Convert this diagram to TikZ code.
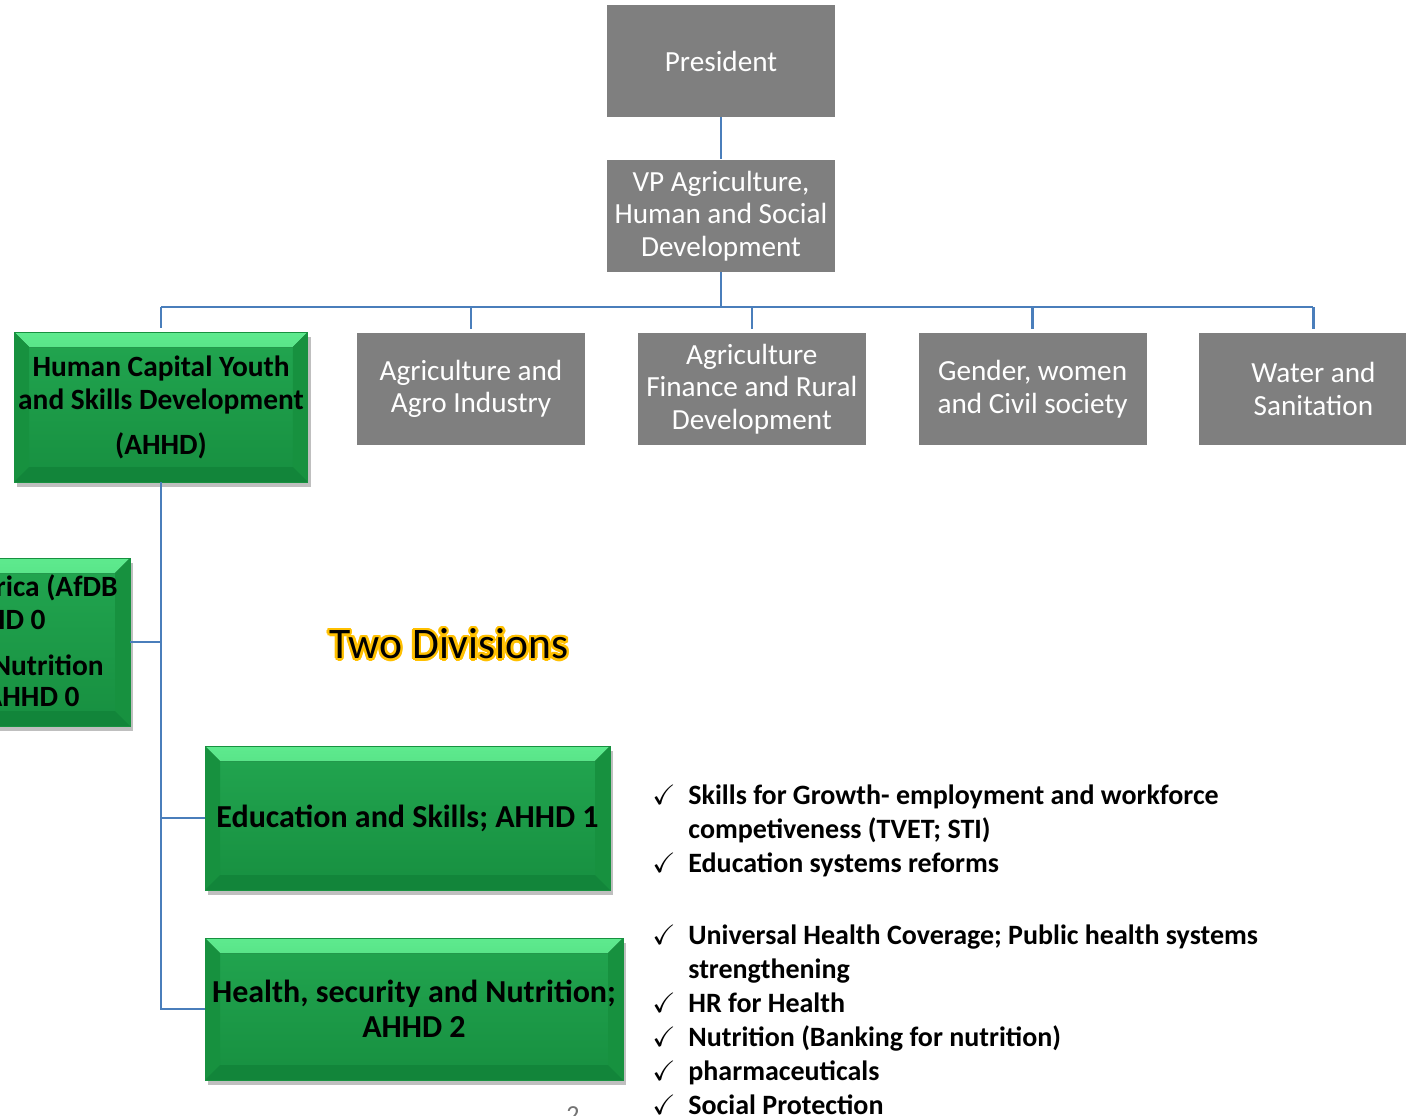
\documentclass[tikz,border=0pt]{standalone}
\usepackage{fontspec}
\setmainfont{Carlito}
\usepackage{amssymb}
\usepackage[copies]{contour}
\usetikzlibrary{positioning,shadows}

\definecolor{boxgray}{HTML}{7F7F7F}
\definecolor{linkblue}{HTML}{4A7EBB}
\definecolor{bevlight}{HTML}{5EEA8E}
\definecolor{bevmid}{HTML}{2DB85C}
\definecolor{facetop}{HTML}{22A650}
\definecolor{facebot}{HTML}{178F40}
\definecolor{bevside}{HTML}{17913F}
\definecolor{bevbot}{HTML}{12853A}
\definecolor{glow}{HTML}{FFC000}

\newcommand{\bevdepth}{7.5pt}
\newcommand{\tick}{\makebox[18pt][l]{$\checkmark$}}
\newcommand{\indnt}{\hspace*{18pt}}

\tikzstyle{unit}=[
	rectangle,
	fill=boxgray,
	text=white,
	align=center,
	inner sep=2pt,
	minimum width=114pt,
	minimum height=56pt,
	font=\fontsize{14.6pt}{16.25pt}\selectfont
]
\tikzstyle{bevel}=[
	path picture={
		\fill[top color=bevlight, bottom color=bevmid]
			(path picture bounding box.north west) -- (path picture bounding box.north east)
			-- ([xshift=-\bevdepth, yshift=-\bevdepth]path picture bounding box.north east)
			-- ([xshift=\bevdepth, yshift=-\bevdepth]path picture bounding box.north west) -- cycle;
		\fill[bevside]
			(path picture bounding box.north west) -- ([xshift=\bevdepth, yshift=-\bevdepth]path picture bounding box.north west)
			-- ([xshift=\bevdepth, yshift=\bevdepth]path picture bounding box.south west)
			-- (path picture bounding box.south west) -- cycle;
		\fill[bevside]
			(path picture bounding box.north east) -- ([xshift=-\bevdepth, yshift=-\bevdepth]path picture bounding box.north east)
			-- ([xshift=-\bevdepth, yshift=\bevdepth]path picture bounding box.south east)
			-- (path picture bounding box.south east) -- cycle;
		\fill[bevbot]
			(path picture bounding box.south west) -- (path picture bounding box.south east)
			-- ([xshift=-\bevdepth, yshift=\bevdepth]path picture bounding box.south east)
			-- ([xshift=\bevdepth, yshift=\bevdepth]path picture bounding box.south west) -- cycle;
	}
]
\tikzstyle{division}=[
	rectangle,
	bevel,
	top color=facetop,
	bottom color=facebot,
	draw=bevside,
	thin,
	drop shadow={shadow xshift=1.5pt, shadow yshift=-2.5pt, fill=black, opacity=0.25},
	align=center,
	inner sep=2pt,
	font=\bfseries\fontsize{14.7pt}{16.5pt}\selectfont
]
\tikzstyle{cut}=[
	inner sep=0pt,
	anchor=east,
	font=\bfseries\fontsize{14.7pt}{16.5pt}\selectfont
]
\tikzstyle{ticklist}=[
	inner sep=0pt,
	anchor=north west,
	align=left,
	font=\bfseries\fontsize{14pt}{17pt}\selectfont
]
\tikzstyle{link}=[
	draw=linkblue,
	line width=1.3pt
]

\begin{document}
\begin{tikzpicture}[x=0.5pt, y=-0.5pt]
\clip (0,0) rectangle (1406,1115);
\fill[white] (0,0) rectangle (1406,1115);

% top of the chart
\node [unit] (President) at (721,61) {President};
\node [unit] (VP) [below=21pt of President] {VP Agriculture,\\Human and Social\\Development};
\coordinate (Bus) at (721,307);

% departments
\node [division, minimum width=146pt, minimum height=75pt] (HCD) at (161,407)
	{Human Capital Youth\\and Skills Development\\[6pt](AHHD)};
\node [unit] (Agro) at (471,389) {Agriculture and\\Agro Industry};
\node [unit] (Finance) [right=26pt of Agro] {Agriculture\\Finance and Rural\\Development};
\node [unit] (Gender) [right=26pt of Finance] {Gender, women\\and Civil society};
\node [unit] (Water) [right=26pt of Gender] {Water and\\Sanitation};

\draw [link] (President) -- (VP);
\draw [link] (VP) -- (Bus);
\draw [link] (HCD.north |- Bus) -- (Water.north |- Bus);
\foreach \dept in {HCD, Agro, Finance, Gender, Water}
	\draw [link] (\dept.north |- Bus) -- ([yshift=2pt]\dept.north);

% divisions of AHHD
\node [division, minimum width=140pt, minimum height=84pt] (Regional) at (-10,642) {};
\node [cut] (RegionalA) at (118,588) {rica (AfDB};
\node [cut] (RegionalB) at (46,620) {HD 0};
\node [cut] (RegionalC) at (104,665) {Nutrition};
\node [cut] (RegionalD) at (80,697) {AHHD 0};

\node (TwoDiv) at (449,645) {\fontsize{21.8pt}{26pt}\selectfont\contourlength{1.2pt}\contour{glow}{Two Divisions}};

\node [division, minimum width=202.5pt, minimum height=72pt, font=\bfseries\fontsize{16pt}{18pt}\selectfont] (Edu) at (407.5,818)
	{Education and Skills; AHHD 1};
\node [division, minimum width=209pt, minimum height=71pt, font=\bfseries\fontsize{16pt}{17.5pt}\selectfont] (Health) at (414,1009)
	{Health, security and Nutrition;\\AHHD 2};

\draw [link] (HCD.south) -- (HCD.south |- Health.west) -- (Health.west);
\draw [link] (HCD.south |- Edu.west) -- (Edu.west);
\draw [link] (HCD.south |- Regional.east) -- (Regional.east);

% what each division covers
\node [ticklist] (EduList) at (652,784)
	{\tick Skills for Growth- employment and workforce\\
	\indnt competiveness (TVET; STI)\\
	\tick Education systems reforms};
\node [ticklist] (HealthList) at (652,924)
	{\tick Universal Health Coverage; Public health systems\\
	\indnt strengthening\\
	\tick HR for Health\\
	\tick Nutrition (Banking for nutrition)\\
	\tick pharmaceuticals\\
	\tick Social Protection};

\node [inner sep=0pt, anchor=north, text=black!55, font=\fontsize{13pt}{15pt}\selectfont] (PageNo) at (573,1106) {2};
\end{tikzpicture}
\end{document}
